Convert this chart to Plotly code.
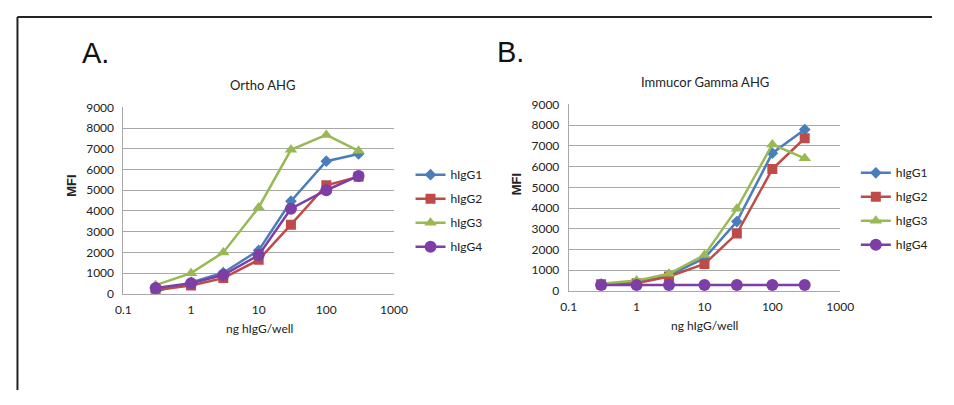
import plotly.graph_objects as go

# The page keeps the browser's 8px body margin, so the figure is sized to make
# the whole page exactly 954x405; reference pixel p maps to figure pixel p-8.
OFF = 8
W, H = 954 - 2 * OFF, 405 - 2 * OFF

doses = [0.3, 1, 3, 10, 30, 100, 300]
series_names = ["hIgG1", "hIgG2", "hIgG3", "hIgG4"]

# Panel A: Ortho AHG
ortho_hIgG1 = [120, 550, 1020, 2100, 4470, 6400, 6750]
ortho_hIgG2 = [180, 400, 760, 1640, 3340, 5240, 5650]
ortho_hIgG3 = [420, 1000, 2000, 4170, 6950, 7670, 6900]
ortho_hIgG4 = [280, 510, 910, 1870, 4110, 5000, 5690]

# Panel B: Immucor Gamma AHG
gamma_hIgG1 = [330, 420, 760, 1580, 3350, 6650, 7790]
gamma_hIgG2 = [320, 370, 700, 1300, 2770, 5880, 7370]
gamma_hIgG3 = [350, 500, 830, 1730, 3970, 7070, 6400]
gamma_hIgG4 = [290, 290, 290, 290, 290, 290, 290]

x_tick_vals = [0.1, 1, 10, 100, 1000]
x_tick_text = ["0.1", "1", "10", "100", "1000"]
y_tick_vals = [0, 1000, 2000, 3000, 4000, 5000, 6000, 7000, 8000, 9000]

colors = ["#4A7EBB", "#BE4B48", "#98B954", "#7D3FA6"]
symbols = ["diamond", "square", "triangle-up", "circle"]
msizes = [9, 10, 11, 12]

FONT = "Lato, 'Open Sans', sans-serif"

fig = go.Figure()

def add_panel(data, xa, ya, legend):
    for i, (name, vals) in enumerate(zip(series_names, data)):
        fig.add_trace(go.Scatter(
            x=doses, y=vals, name=name, mode="lines+markers",
            xaxis=xa, yaxis=ya, legend=legend,
            legendgroup=legend + name,
            line=dict(color=colors[i], width=2.5),
            marker=dict(symbol=symbols[i], size=msizes[i], color=colors[i]),
        ))

add_panel([ortho_hIgG1, ortho_hIgG2, ortho_hIgG3, ortho_hIgG4], "x", "y", "legend")
add_panel([gamma_hIgG1, gamma_hIgG2, gamma_hIgG3, gamma_hIgG4], "x2", "y2", "legend2")

def px_x(p):
    return (p - OFF) / W

def px_y(p):
    return 1 - (p - OFF) / H

grid = "#a8a8a8"
axis_common_x = dict(
    type="log", range=[-1, 3], tickvals=x_tick_vals, ticktext=x_tick_text,
    showgrid=False, showline=True, linecolor=grid, linewidth=1,
    ticks="", tickfont=dict(family=FONT, size=12, color="#222"),
    ticklabelstandoff=5, zeroline=False, fixedrange=True,
)
axis_common_y = dict(
    range=[0, 9000], tickvals=y_tick_vals, showgrid=True, gridcolor=grid,
    gridwidth=1, showline=True, linecolor=grid, linewidth=1, ticks="",
    tickfont=dict(family=FONT, size=12, color="#222"), ticklabelstandoff=6,
    zeroline=False, fixedrange=True,
)

legend_common = dict(
    font=dict(family=FONT, size=12, color="#222"),
    bgcolor="rgba(0,0,0,0)", traceorder="grouped", tracegroupgap=5,
    itemwidth=30, xanchor="left", yanchor="top",
)

fig.update_layout(
    width=W, height=H,
    margin=dict(l=0, r=0, t=0, b=0),
    paper_bgcolor="white", plot_bgcolor="white",
    showlegend=True,
    xaxis=dict(domain=[px_x(118), px_x(395)], anchor="y", **axis_common_x),
    yaxis=dict(domain=[px_y(297), px_y(103)], anchor="x", **axis_common_y),
    xaxis2=dict(domain=[px_x(574), px_x(852)], anchor="y2", **axis_common_x),
    yaxis2=dict(domain=[px_y(294), px_y(100)], anchor="x2", **axis_common_y),
    legend=dict(x=px_x(412), y=px_y(158), **legend_common),
    legend2=dict(x=px_x(868), y=px_y(156), **legend_common),
)

annotations = [
    dict(text="A.", x=px_x(74), y=px_y(47), xanchor="left", yanchor="middle",
         font=dict(family="Liberation Sans, Arial, sans-serif", size=29, color="#111")),
    dict(text="B.", x=px_x(498), y=px_y(45), xanchor="left", yanchor="middle",
         font=dict(family="Liberation Sans, Arial, sans-serif", size=29, color="#111")),
    dict(text="Ortho AHG", x=px_x(260), y=px_y(80), xanchor="center", yanchor="middle",
         font=dict(family=FONT, size=13, color="#222")),
    dict(text="Immucor Gamma AHG", x=px_x(714), y=px_y(77), xanchor="center", yanchor="middle",
         font=dict(family=FONT, size=13, color="#222")),
    dict(text="<b>MFI</b>", x=px_x(65), y=px_y(185), xanchor="center", yanchor="middle",
         textangle=-90, font=dict(family="Liberation Sans, Arial, sans-serif", size=13, color="#222")),
    dict(text="<b>MFI</b>", x=px_x(520), y=px_y(183), xanchor="center", yanchor="middle",
         textangle=-90, font=dict(family="Liberation Sans, Arial, sans-serif", size=13, color="#222")),
    dict(text="ng hIgG/well", x=px_x(257), y=px_y(333), xanchor="center", yanchor="middle",
         font=dict(family=FONT, size=12, color="#222")),
    dict(text="ng hIgG/well", x=px_x(713), y=px_y(330), xanchor="center", yanchor="middle",
         font=dict(family=FONT, size=12, color="#222")),
]
for a in annotations:
    a.update(xref="paper", yref="paper", showarrow=False)
fig.update_layout(annotations=annotations)

# outer frame: top and left edges, kept inside the figure
frame = dict(color="#222", width=2)
fig.add_shape(type="line", xref="paper", yref="paper",
              x0=px_x(9.5), x1=1, y0=px_y(9), y1=px_y(9), line=frame)
fig.add_shape(type="line", xref="paper", yref="paper",
              x0=px_x(9.5), x1=px_x(9.5), y0=px_y(9), y1=0, line=frame)

fig.write_html("out.html", config={"displayModeBar": False})
